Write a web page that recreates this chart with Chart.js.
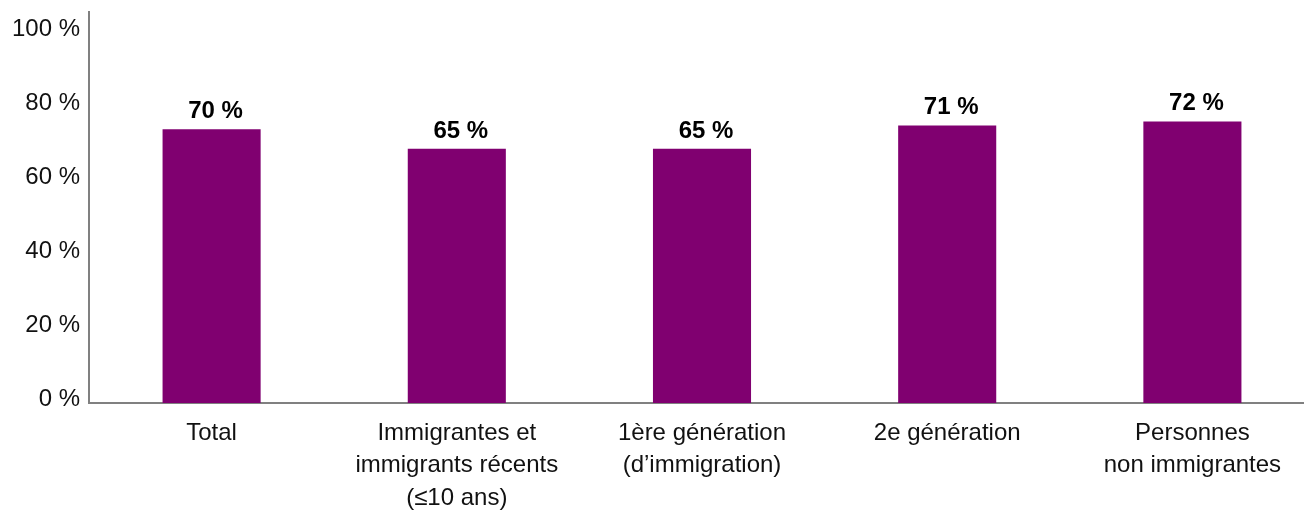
<!DOCTYPE html>
<html>
<head>
<meta charset="utf-8">
<script src="https://cdn.jsdelivr.net/npm/chart.js@4/dist/chart.umd.min.js"></script>
<style>
  html, body { margin: 0; padding: 0; background: #fff; overflow: hidden; }
  #wrap { width: 1315px; height: 510px; }
</style>
</head>
<body>
<div id="wrap"><canvas id="c" width="1315" height="510"></canvas></div>
<script>
// Categories (multi-line labels) and shares in percent
const categories = [
  ["Total"],
  ["Immigrantes et", "immigrants récents", "(≤10 ans)"],
  ["1ère génération", "(d’immigration)"],
  ["2e génération"],
  ["Personnes", "non immigrantes"]
];
const values = [70, 65, 65, 71, 72];
const tickValues = [0, 20, 40, 60, 80, 100];

const FONT = '"Liberation Sans", Arial, Helvetica, sans-serif';
const BAR_COLOR = '#800070';
const AXIS_COLOR = '#808080';

// Bold value labels above each bar
const valueLabels = {
  id: 'valueLabels',
  afterDatasetsDraw(chart) {
    const ctx = chart.ctx;
    const meta = chart.getDatasetMeta(0);
    ctx.save();
    ctx.font = 'bold 24px ' + FONT;
    ctx.fillStyle = '#000';
    ctx.textAlign = 'center';
    ctx.textBaseline = 'alphabetic';
    meta.data.forEach((bar, i) => {
      ctx.fillText(values[i] + ' %', bar.x + 4, bar.y - 11);
    });
    ctx.restore();
  }
};

new Chart(document.getElementById('c'), {
  type: 'bar',
  data: {
    labels: categories,
    datasets: [{
      data: values,
      backgroundColor: BAR_COLOR,
      borderWidth: 0,
      barPercentage: 0.4,
      categoryPercentage: 1.0,
      yAxisID: 'y'
    }]
  },
  options: {
    responsive: false,
    animation: false,
    events: [],
    layout: { padding: { top: 12, right: 0, bottom: 0, left: 0 } },
    plugins: {
      legend: { display: false },
      tooltip: { enabled: false },
      title: { display: false }
    },
    scales: {
      x: {
        offset: true,
        grid: { display: false, drawTicks: false },
        border: { display: true, color: AXIS_COLOR, width: 2 },
        ticks: {
          color: '#111',
          padding: 14,
          maxRotation: 0,
          autoSkip: false,
          font: { family: FONT, size: 24, lineHeight: 1.354 }
        },
        afterFit(axis) {
          axis.height = 107;
          axis.paddingLeft = 0;
          axis.paddingRight = 0;
        }
      },
      y: {
        display: false,
        min: 0,
        max: 100
      },
      yLab: {
        position: 'left',
        min: -1.0,
        max: 104.8,
        grid: { display: false, drawTicks: false },
        border: { display: true, color: AXIS_COLOR, width: 2 },
        afterBuildTicks(axis) {
          axis.ticks = tickValues.map(v => ({ value: v }));
        },
        ticks: {
          color: '#111',
          padding: 9,
          font: { family: FONT, size: 24 },
          callback: (v) => v + ' %'
        },
        afterFit(axis) {
          axis.width = 89;
          axis.paddingTop = 0;
          axis.paddingBottom = 0;
        }
      }
    }
  },
  plugins: [valueLabels]
});
</script>
</body>
</html>
